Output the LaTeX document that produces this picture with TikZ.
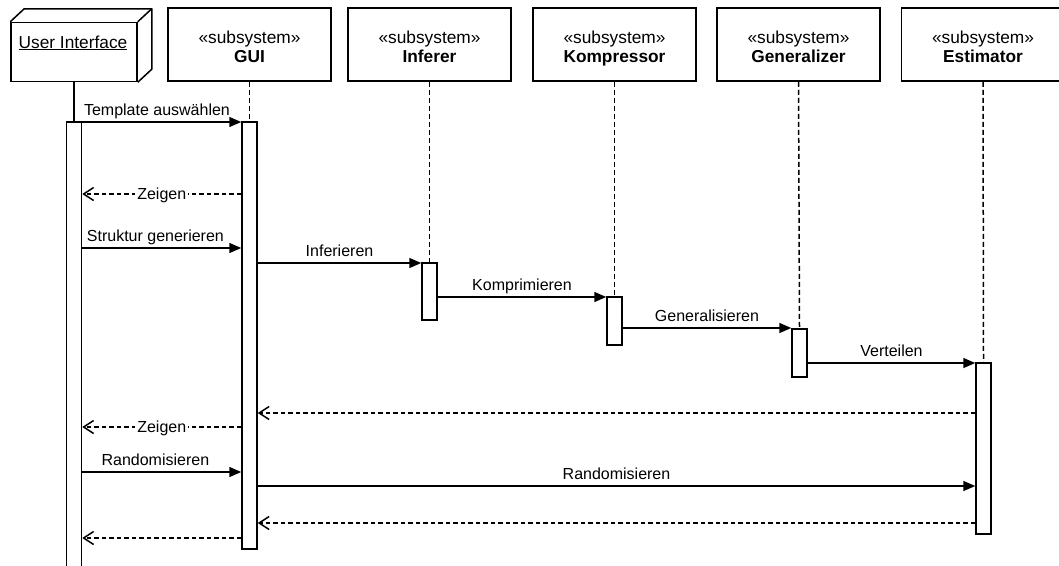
\documentclass[tikz,border=0pt]{standalone}
\usepackage{fontspec}
\setmainfont{Liberation Sans}
\usetikzlibrary{arrows.meta,calc}

\tikzset{
  base line/.style={line width=1.5pt, draw=black},
  hdr/.style={base line, rectangle, minimum width=163pt, minimum height=73pt,
    inner sep=0pt, align=center, font=\fontsize{17.3}{19}\selectfont, text depth=4pt},
  actbox/.style={base line, rectangle, fill=white, minimum width=15pt, inner sep=0pt},
  life/.style={base line, dash pattern=on 5pt off 3pt},
  call/.style={base line, -{Triangle[length=12pt,width=10pt]}},
  reply/.style={base line, dash pattern=on 4.5pt off 3pt,
    -{Straight Barb[length=10pt,width=13pt,line width=1.5pt]}},
  lbl/.style={font=\fontsize{16}{18}\selectfont, anchor=base, inner sep=0pt},
  lblon/.style={font=\fontsize{16}{18}\selectfont, anchor=base, fill=white, inner sep=2pt},
}

% stereotype line of a subsystem head, with a strut to lower the text block
\newcommand{\stereo}{\rule{0pt}{21pt}«subsystem»}

\begin{document}
\begin{tikzpicture}[x=1pt, y=-1pt]
\useasboundingbox (0,0) rectangle (1059,565);
\clip (0,0) rectangle (1059,565);
\fill[white] (0,0) rectangle (1059,565);

% ---- lifeline heads ----
\node[base line, rectangle, minimum width=126pt, minimum height=59pt, inner sep=0pt] (ui) at (74,52) {};
\draw[base line, line join=round] (ui.north west) -- ++(14,-13) -- ($(ui.north east)+(14,-13)$)
  -- ($(ui.south east)+(14,-13)$) -- (ui.south east);
\draw[base line] (ui.north east) -- ++(14,-13);
\node[font=\fontsize{17.3}{19}\selectfont, anchor=base] (uitext) at (73,48) {\underline{User Interface}};

\node[hdr] (gui) at (249.5,44.5) {\stereo\\\textbf{GUI}};
\node[hdr] (inf) at (429.5,44.5) {\stereo\\\textbf{Inferer}};
\node[hdr] (kom) at (614.5,44.5) {\stereo\\\textbf{Kompressor}};
\node[hdr] (gen) at (798.5,44.5) {\stereo\\\textbf{Generalizer}};
\node[hdr] (est) at (983,44.5) {\stereo\\\textbf{Estimator}};

% ---- activations ----
\node[actbox, minimum height=460pt] (uiA) at (74,352) {};
\node[actbox, minimum height=427pt] (guiA) at (249.5,335.5) {};
\node[actbox, minimum height=57pt] (infA) at (429.5,291.5) {};
\node[actbox, minimum height=48pt] (komA) at (614.5,321) {};
\node[actbox, minimum height=48pt] (genA) at (799.5,353) {};
\node[actbox, minimum height=171pt] (estA) at (983.5,448.5) {};

% ---- lifelines ----
\draw[base line] (ui.south) -- (uiA.north);
\draw[life] (gui.south) -- (guiA.north);
\draw[life] (inf.south) -- (infA.north);
\draw[life] (kom.south) -- (komA.north);
\draw[life] (gen.south) -- (genA.north);
\draw[life] (est.south) -- (estA.north);

% ---- messages ----
\draw[call] (uiA.east |- 0,122) -- (guiA.west |- 0,122)
  node[lbl, pos=0.47, yshift=7pt] {Template auswählen};
\draw[reply] (guiA.west |- 0,194) -- (uiA.east |- 0,194)
  node[lblon, midway, yshift=-5pt] {Zeigen};
\draw[call] (uiA.east |- 0,248) -- (guiA.west |- 0,248)
  node[lbl, pos=0.46, yshift=7pt] {Struktur generieren};
\draw[call] (guiA.east |- 0,263) -- (infA.west |- 0,263)
  node[lbl, midway, yshift=7pt] {Inferieren};
\draw[call] (infA.east |- 0,297) -- (komA.west |- 0,297)
  node[lbl, midway, yshift=7pt] {Komprimieren};
\draw[call] (komA.east |- 0,328) -- (genA.west |- 0,328)
  node[lbl, midway, yshift=7pt] {Generalisieren};
\draw[call] (genA.east |- 0,363) -- (estA.west |- 0,363)
  node[lbl, midway, yshift=7pt] {Verteilen};
\draw[reply] (estA.west |- 0,413) -- (guiA.east |- 0,413);
\draw[reply] (guiA.west |- 0,427) -- (uiA.east |- 0,427)
  node[lblon, midway, yshift=-5pt] {Zeigen};
\draw[call] (uiA.east |- 0,472) -- (guiA.west |- 0,472)
  node[lbl, pos=0.46, yshift=7pt] {Randomisieren};
\draw[call] (guiA.east |- 0,486) -- (estA.west |- 0,486)
  node[lbl, midway, yshift=7pt] {Randomisieren};
\draw[reply] (estA.west |- 0,523) -- (guiA.east |- 0,523);
\draw[reply] (guiA.west |- 0,538) -- (uiA.east |- 0,538);
\end{tikzpicture}
\end{document}
